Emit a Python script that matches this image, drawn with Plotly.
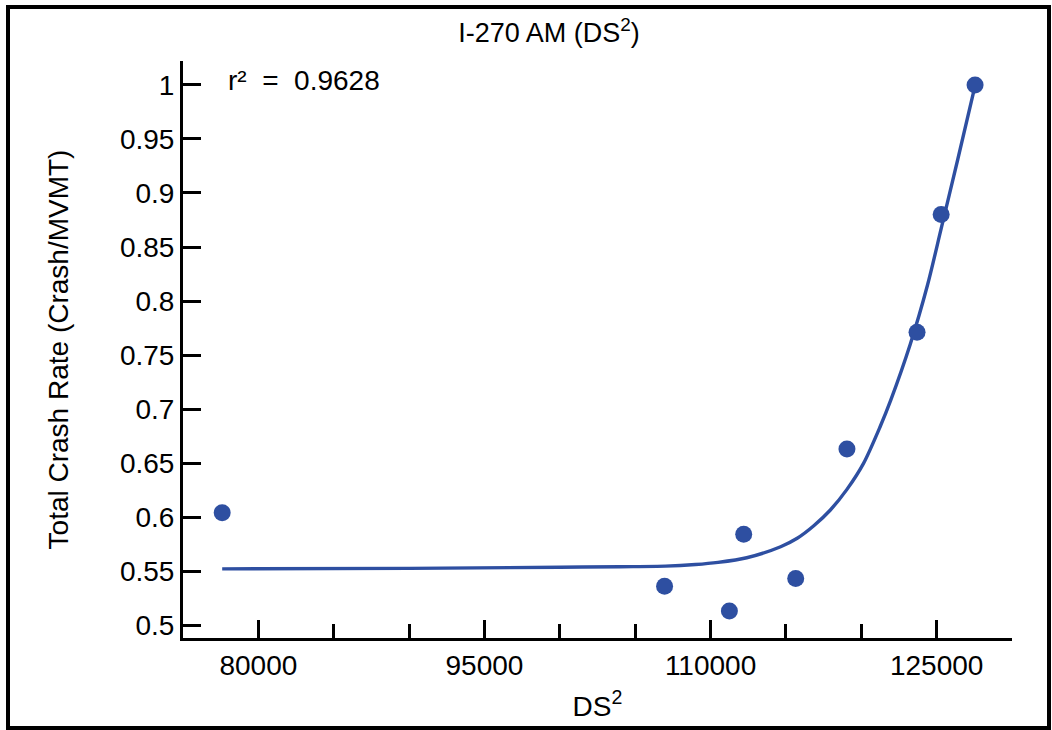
import plotly.graph_objects as go

# Observed crash rates versus DS^2 (I-270, AM period)
ds2 = [77600, 106950, 111250, 112200, 115650, 119050, 123700, 125300, 127550]
crash_rate = [0.604, 0.536, 0.513, 0.584, 0.543, 0.663, 0.771, 0.880, 1.000]

# Fitted trend line, sampled along DS^2
fit_ds2 = [77600, 90000, 100000, 104000, 107000, 109000, 110500, 112400, 114650,
           115750, 116850, 117950, 119050, 120150, 121250, 121950, 123250,
           124400, 125300, 126400, 127550]
fit_rate = [0.552, 0.5525, 0.5535, 0.554, 0.5545, 0.556, 0.558, 0.5623, 0.5725,
            0.5803, 0.5919, 0.6065, 0.6256, 0.6497, 0.6836, 0.708, 0.760,
            0.815, 0.867, 0.931, 0.9994]

x_tickvals = [80000, 95000, 110000, 125000]
x_ticktext = ["80000", "95000", "110000", "125000"]
y_tickvals = [0.5, 0.55, 0.6, 0.65, 0.7, 0.75, 0.8, 0.85, 0.9, 0.95, 1.0]
y_ticktext = ["0.5", "0.55", "0.6", "0.65", "0.7", "0.75", "0.8", "0.85", "0.9", "0.95", "1"]

r2_label = "r²&nbsp;&nbsp;=&nbsp;&nbsp;0.9628"

BLUE = "#2e4fa1"
FONT = "Liberation Sans, Arial, sans-serif"

W, H = 1052, 730
L, R, T, B = 183, 40, 61, 92
pw, ph = W - L - R, H - T - B

def px_x(px):
    return (px - L) / pw

def px_y(py):
    return (H - B - py) / ph

fig = go.Figure()
fig.add_trace(go.Scatter(
    x=fit_ds2, y=fit_rate, mode="lines",
    line=dict(color=BLUE, width=3.4, shape="spline", smoothing=0.8),
    hoverinfo="skip", showlegend=False))
fig.add_trace(go.Scatter(
    x=ds2, y=crash_rate, mode="markers", marker=dict(color=BLUE, size=17),
    showlegend=False))

fig.update_layout(
    width=W, height=H,
    margin=dict(l=L, r=R, t=T, b=B),
    paper_bgcolor="white", plot_bgcolor="white",
    font=dict(family=FONT, size=28, color="black"),
    title=dict(text="I-270 AM (DS<sup>2</sup>)", x=549 / W, xanchor="center",
               y=1 - 33 / H, yanchor="middle", font=dict(size=27)),
    xaxis=dict(
        range=[75000, 130000], showgrid=False, zeroline=False,
        showline=True, linecolor="black", linewidth=3,
        tickmode="array", tickvals=x_tickvals, ticktext=x_ticktext,
        ticks="inside", ticklen=18, tickwidth=3, tickcolor="black",
        minor=dict(dtick=5000, tick0=75000, ticks="inside", ticklen=14,
                   tickwidth=3, tickcolor="black", showgrid=False),
        tickfont=dict(size=28),
        title=dict(text="DS<sup>2</sup>", font=dict(size=28), standoff=17),
    ),
    yaxis=dict(
        range=[0.488, 1.0222], showgrid=False, zeroline=False,
        showline=True, linecolor="black", linewidth=3,
        tickmode="array", tickvals=y_tickvals, ticktext=y_ticktext,
        ticks="inside", ticklen=18, tickwidth=3, tickcolor="black",
        tickfont=dict(size=28),
        title=dict(text="Total Crash Rate (Crash/MVMT)", font=dict(size=28), standoff=44),
    ),
    annotations=[dict(
        text=r2_label, xref="paper", yref="paper", x=px_x(226), y=px_y(80),
        xanchor="left", yanchor="middle", showarrow=False, font=dict(size=28))],
    shapes=[dict(
        type="rect", xref="paper", yref="paper",
        x0=px_x(8), x1=px_x(1049), y0=px_y(728), y1=px_y(7),
        line=dict(color="black", width=4), fillcolor="rgba(0,0,0,0)", layer="above")],
)

fig.write_html("out.html")
